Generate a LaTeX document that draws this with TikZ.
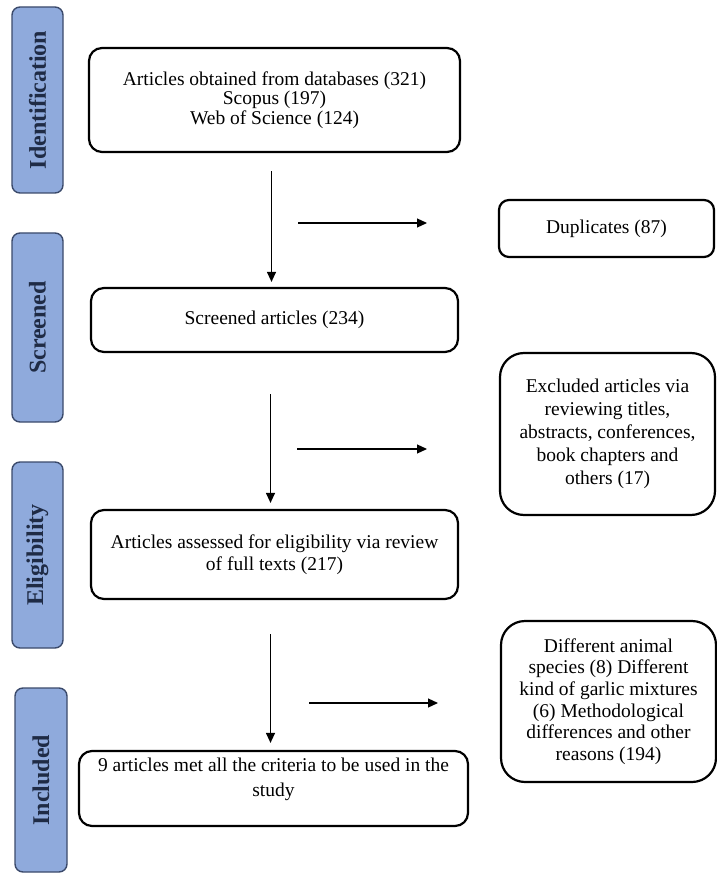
\documentclass[tikz,border=0pt]{standalone}
\usepackage{fontspec}
\setmainfont{Liberation Serif}
\usepackage{xcolor}
\usetikzlibrary{arrows.meta}
\definecolor{phasefill}{HTML}{8FAADC}
\definecolor{phaseline}{HTML}{3B4A6B}
\definecolor{phasetext}{HTML}{1F2B45}

\begin{document}
\begin{tikzpicture}[x=1pt,y=-1pt,
  phase/.style={draw=phaseline, fill=phasefill, line width=1.4pt, rounded corners=8pt, rotate=90, inner sep=0pt, text=phasetext, font=\fontsize{24}{27}\selectfont\bfseries},
  stepbox/.style={draw, line width=2.2pt, rounded corners=13pt, align=center, inner sep=0pt, font=\fontsize{19.5}{22}\selectfont},
  sidebox/.style={stepbox, rounded corners=24pt, minimum width=215, minimum height=161},
  flow/.style={line width=1.2pt, -{Triangle[length=10pt,width=9pt]}}
]
\useasboundingbox (0,0) rectangle (716,874);

% phases on the left
\node[phase, minimum width=186, minimum height=51] (idph) at (37.5,100) {Identification};
\node[phase, minimum width=189, minimum height=51] (scph) at (37.5,327.5) {Screened};
\node[phase, minimum width=186, minimum height=51] (elph) at (37.5,555) {Eligibility};
\node[phase, minimum width=184, minimum height=52] (inph) at (41,780) {Included};

% main column
\node[stepbox, minimum width=371, minimum height=104, font=\fontsize{19.5}{19.5}\selectfont] (art) at (274.5,100)
  {Articles obtained from databases (321)\\ Scopus (197)\\ Web of Science (124)};
\node[stepbox, minimum width=367, minimum height=64] (scr) at (274.5,320) {Screened articles (234)};
\node[stepbox, minimum width=367, minimum height=89] (elig) at (274.5,554.5)
  {Articles assessed for eligibility via review\\ of full texts (217)};
\node[stepbox, minimum width=389, minimum height=75, font=\fontsize{19.5}{25}\selectfont, text depth=22pt] (incl) at (273.5,788.5)
  {9 articles met all the criteria to be used in the\\ study};

% excluded records
\node[stepbox, rounded corners=10pt, minimum width=215, minimum height=57] (dup) at (606.5,228.5) {Duplicates (87)};
\node[sidebox, minimum height=162, font=\fontsize{19.5}{23}\selectfont] (excl) at (607.5,434)
  {Excluded articles via\\ reviewing titles,\\ abstracts, conferences,\\ book chapters and\\ others (17)};
\node[sidebox, font=\fontsize{19.5}{21.6}\selectfont] (diff) at (608.5,701.5)
  {Different animal\\ species (8) Different\\ kind of garlic mixtures\\ (6) Methodological\\ differences and other\\ reasons (194)};

% arrows
\draw[flow, shorten <=18pt, shorten >=5pt] ([xshift=-3]art.south) -- ([xshift=-3]scr.north);
\draw[flow, shorten <=41pt, shorten >=6pt] ([xshift=-4]scr.south) -- ([xshift=-4]elig.north);
\draw[flow, shorten <=34pt, shorten >=7pt] ([xshift=-4]elig.south) -- ([xshift=-3]incl.north);

\coordinate (s1a) at (298,223);
\coordinate (s1b) at (427,223);
\coordinate (s2a) at (297,449);
\coordinate (s2b) at (427,449);
\coordinate (s3a) at (309,703);
\coordinate (s3b) at (438,703);
\draw[flow] (s1a) -- (s1b);
\draw[flow] (s2a) -- (s2b);
\draw[flow] (s3a) -- (s3b);
\end{tikzpicture}
\end{document}
